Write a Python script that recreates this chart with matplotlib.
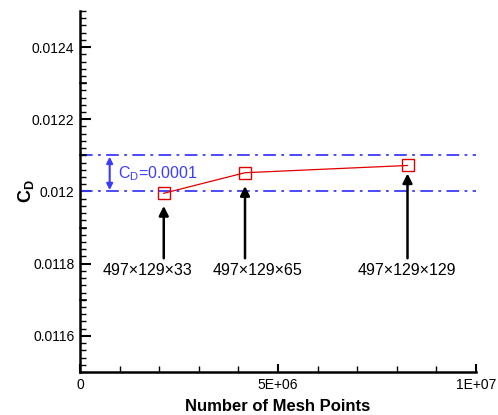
import matplotlib
matplotlib.use('Agg')
import matplotlib.pyplot as plt
from matplotlib.ticker import MultipleLocator, FuncFormatter

plt.rcParams['font.family'] = ['Liberation Sans', 'DejaVu Sans']
plt.rcParams['mathtext.fontset'] = 'custom'
plt.rcParams['mathtext.rm'] = 'Liberation Sans'
plt.rcParams['mathtext.bf'] = 'Liberation Sans:bold'

# mesh sizes and drag coefficient
mesh_labels = ['497×129×33', '497×129×65', '497×129×129']
mesh_points = [497 * 129 * 33, 497 * 129 * 65, 497 * 129 * 129]
cd_values = [0.011995, 0.012052, 0.012072]

band_low = 0.0120
band_high = 0.0121
band_label = r'$\mathrm{C_D}$=0.0001'

# arrow tip / tail heights (data units), label positions
arrow_tips = [0.011960, 0.012015, 0.012050]
arrow_tail = 0.011815
label_x = [1.7e6, 4.48e6, 8.25e6]
label_y = 0.011780

BLUE = '#3c3cff'
RED = '#e00000'

fig = plt.figure(figsize=(4.98, 4.15), dpi=100)
ax = fig.add_axes([0.1606, 0.1036, 0.7952, 0.87])

ax.set_xlim(0, 1e7)
ax.set_ylim(0.0115, 0.0125)

ls = (0, (7, 3, 1.5, 3))
ax.axhline(band_high, color=BLUE, lw=1.3, linestyle=ls)
ax.axhline(band_low, color=BLUE, lw=1.3, linestyle=ls)

ax.plot(mesh_points, cd_values, color=RED, lw=0.9, marker='s', ms=8,
        mfc='none', mec=RED, mew=1.0, zorder=5)

# band annotation
ax.annotate('', xy=(0.75e6, band_high), xytext=(0.75e6, band_low),
            arrowprops=dict(arrowstyle='<|-|>', color=BLUE, lw=1.5,
                            mutation_scale=9, shrinkA=1, shrinkB=1))
ax.text(0.95e6, (band_low + band_high) / 2, band_label, color=BLUE,
        fontsize=11.5, va='center', ha='left')

for xp, tip, lx, lab in zip(mesh_points, arrow_tips, label_x, mesh_labels):
    ax.annotate('', xy=(xp, tip), xytext=(xp, arrow_tail),
                arrowprops=dict(arrowstyle='-|>', color='black', lw=1.8,
                                mutation_scale=14, shrinkA=0, shrinkB=0))
    ax.text(lx, label_y, lab, fontsize=11.5, ha='center', va='center')

for side in ['top', 'right']:
    ax.spines[side].set_visible(False)
for side in ['left', 'bottom']:
    ax.spines[side].set_linewidth(1.8)

ax.xaxis.set_major_locator(MultipleLocator(5e6))
ax.xaxis.set_minor_locator(MultipleLocator(1e6))
ax.xaxis.set_major_formatter(FuncFormatter(
    lambda v, p: '0' if v == 0 else f'{v:.0E}'))
ax.yaxis.set_major_locator(MultipleLocator(0.0002))
ax.yaxis.set_minor_locator(MultipleLocator(0.00002))
ax.yaxis.set_major_formatter(FuncFormatter(lambda v, p: f'{v:.4f}'.rstrip('0')))

ax.tick_params(axis='both', which='major', direction='in', length=8,
               width=1.5, labelsize=10, pad=4)
ax.tick_params(axis='both', which='minor', direction='in', length=4, width=1.0)
ax.tick_params(axis='x', which='major', length=6)

# medium ticks at the odd 0.0001 values
for yv in [0.0117, 0.0119, 0.0121, 0.0123]:
    ax.plot([0, 0.016e7], [yv, yv], color='black', lw=1.2, clip_on=False)

ax.set_xlabel('Number of Mesh Points', fontsize=12, fontweight='bold', labelpad=5)
ax.set_ylabel(r'$\mathbf{C_D}$', fontsize=13, labelpad=-3)

fig.savefig('out.png', dpi=100)
